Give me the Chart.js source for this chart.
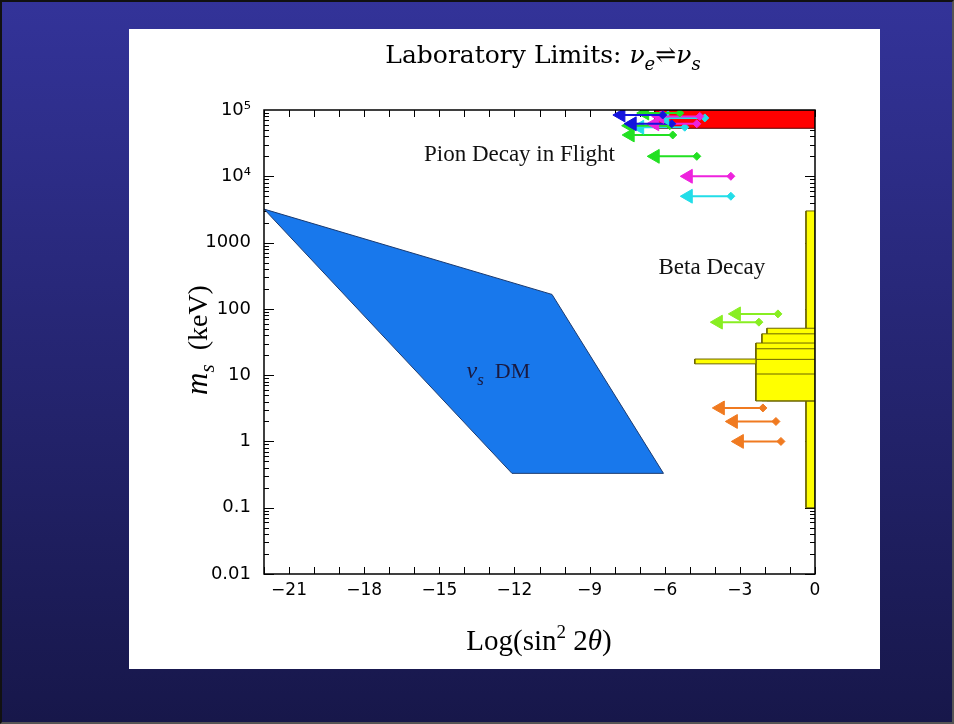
<!DOCTYPE html>
<html>
<head>
<meta charset="utf-8">
<script src="https://cdn.jsdelivr.net/npm/chart.js@4.4.1/dist/chart.umd.min.js"></script>
<style>
  html, body { margin: 0; padding: 0; }
  body { width: 954px; height: 724px; overflow: hidden; position: relative; }
  #bg { position: absolute; left: 0; top: 0; width: 950px; height: 720px;
        border: 2px solid #111; border-right-color: #555; border-bottom-color: #555;
        background: linear-gradient(#333399, #17174a); }
  #panel { position: absolute; left: 129px; top: 29px; width: 751px; height: 640px; background: #fff; }
</style>
</head>
<body>
<div id="bg"></div>
<div id="panel"><canvas id="chart" width="751" height="640"></canvas></div>
<script>
// axis ticks
var xTicks = [-21, -18, -15, -12, -9, -6, -3, 0];
var yTicks = [0.01, 0.1, 1, 10, 100, 1000, 1e4, 1e5];
var yTickLabels = ['0.01', '0.1', '1', '10', '100', '1000', '10\u2074', '10\u2075'];

// sterile neutrino dark matter region (closed polygon)
var dmX = [-22, -10.5, -6.05, -12.1, -22];
var dmY = [3200, 165, 0.33, 0.33, 3200];

// pion decay in flight excluded box
var pionX = [-6.4, 0, 0, -6.4, -6.4];
var pionY = [5.3e4, 5.3e4, 1e5, 1e5, 5.3e4];

// beta decay excluded boxes
var betaX0 = [-0.36, -1.92, -2.12, -2.36, -2.36, -2.36, -4.8];
var betaX1 = [0, 0, 0, 0, 0, 0, -2.36];
var betaY0 = [0.1, 4.1, 4.1, 4.1, 4.1, 10.4, 14.8];
var betaY1 = [3000, 51, 42, 30.5, 25, 17.3, 17.5];

// upper limits drawn as arrows (head on the left, diamond on the right)
var arrowColor = ['#1414dd', '#22e022', '#ee22dd', '#22dde8', '#1414dd', '#ee22dd', '#22e022', '#22dde8',
                  '#22e022', '#22e022', '#ee22dd', '#22dde8',
                  '#88ee22', '#88ee22', '#f07a20', '#f07a20', '#f07a20'];
var arrowHead = [-7.75, -6.8, -6.2, -6.0, -7.3, -6.4, -7.4, -7.0,
                 -7.38, -6.38, -5.06, -5.06,
                 -3.14, -3.86, -3.78, -3.26, -3.02];
var arrowEnd  = [-6.08, -5.4, -4.6, -4.4, -5.72, -4.72, -5.8, -5.2,
                 -5.68, -4.72, -3.36, -3.36,
                 -1.48, -2.24, -2.08, -1.56, -1.36];
var arrowY    = [8.4e4, 9.0e4, 8.0e4, 7.6e4, 6.2e4, 6.2e4, 5.8e4, 5.5e4,
                 4.2e4, 2.0e4, 1.0e4, 5.0e3,
                 84, 63, 3.2, 2.0, 1.0];

// text labels placed in data coordinates
var labelText = ['Pion Decay in Flight', 'Beta Decay'];
var labelX = [-11.8, -4.12];
var labelY = [2.1e4, 414];

function pts(xs, ys) {
    var out = [];
    for (var i = 0; i < xs.length; i++) out.push({ x: xs[i], y: ys[i] });
    return out;
}

function polygon(xs, ys, fillColor, edgeColor, order) {
    return {
        data: pts(xs, ys),
        showLine: true,
        fill: 'shape',
        backgroundColor: fillColor,
        borderColor: edgeColor,
        borderWidth: 1,
        pointRadius: 0,
        tension: 0,
        order: order
    };
}

var datasets = [];
for (var i = 0; i < arrowY.length; i++) {
    datasets.push({
        data: [{ x: arrowHead[i], y: arrowY[i] }, { x: arrowEnd[i], y: arrowY[i] }],
        showLine: true,
        fill: false,
        borderColor: arrowColor[i],
        borderWidth: 2,
        backgroundColor: arrowColor[i],
        pointBackgroundColor: arrowColor[i],
        pointBorderColor: arrowColor[i],
        pointBorderWidth: 1,
        pointStyle: ['triangle', 'rectRot'],
        pointRotation: [270, 0],
        pointRadius: [8, 4],
        order: 0
    });
}
datasets.push(polygon(pionX, pionY, '#ff0000', '#550000', 1));
for (var j = 0; j < betaX0.length; j++) {
    var bx = [betaX0[j], betaX1[j], betaX1[j], betaX0[j], betaX0[j]];
    var by = [betaY0[j], betaY0[j], betaY1[j], betaY1[j], betaY0[j]];
    datasets.push(polygon(bx, by, '#ffff00', '#6b6400', 2 + betaX0.length - j));
}
datasets.push(polygon(dmX, dmY, '#1878ec', '#1a3a70', 20));

// text pieces drawn one after another: [text, font, baseline shift]
function drawRich(ctx, parts, x, y, align) {
    var w = 0;
    parts.forEach(function (p) { ctx.font = p[1]; w += ctx.measureText(p[0]).width; });
    var cx = align === 'center' ? x - w / 2 : x;
    ctx.textAlign = 'left';
    ctx.textBaseline = 'alphabetic';
    parts.forEach(function (p) {
        ctx.font = p[1];
        ctx.fillText(p[0], cx, y + (p[2] || 0));
        cx += ctx.measureText(p[0]).width;
    });
}

var frameTicks = {
    id: 'frameTicks',
    beforeDatasetsDraw: function (chart) {
        var ctx = chart.ctx, a = chart.chartArea, x = chart.scales.x, y = chart.scales.y;
        ctx.save();
        ctx.strokeStyle = '#000';
        ctx.lineWidth = 1;
        ctx.beginPath();
        for (var v = Math.ceil(x.min); v <= x.max; v++) {
            var px = Math.round(x.getPixelForValue(v)) + 0.5;
            ctx.moveTo(px, a.bottom); ctx.lineTo(px, a.bottom - 7);
            ctx.moveTo(px, a.top); ctx.lineTo(px, a.top + 7);
        }
        for (var e = -2; e < 5; e++) {
            for (var m = 1; m < 10; m++) {
                var py = Math.round(y.getPixelForValue(m * Math.pow(10, e))) + 0.5;
                var len = m === 1 ? 10 : 5;
                ctx.moveTo(a.left, py); ctx.lineTo(a.left + len, py);
                ctx.moveTo(a.right, py); ctx.lineTo(a.right - len, py);
            }
        }
        ctx.stroke();
        ctx.restore();
    },
    afterDatasetsDraw: function (chart) {
        var ctx = chart.ctx, a = chart.chartArea, x = chart.scales.x, y = chart.scales.y;
        ctx.save();
        ctx.strokeStyle = '#000';
        ctx.lineWidth = 1.5;
        ctx.strokeRect(a.left, a.top, a.right - a.left, a.bottom - a.top);

        ctx.fillStyle = '#111';
        ctx.font = '23px "Liberation Serif"';
        ctx.textAlign = 'center';
        ctx.textBaseline = 'middle';
        for (var i = 0; i < labelText.length; i++) {
            ctx.fillText(labelText[i], x.getPixelForValue(labelX[i]), y.getPixelForValue(labelY[i]));
        }
        ctx.fillStyle = '#1a1a40';
        drawRich(ctx, [['\u03bd', 'italic 24px "Liberation Serif"'],
                       ['s', 'italic 17px "Liberation Serif"', 7],
                       ['  DM', '22px "Liberation Serif"']],
                 x.getPixelForValue(-12.64), y.getPixelForValue(12) + 8, 'center');

        // title
        ctx.fillStyle = '#000';
        drawRich(ctx, [['Laboratory Limits: ', '25px "DejaVu Serif"'],
                       ['\u03bd', 'italic 25px "DejaVu Serif"'],
                       ['e', 'italic 18px "DejaVu Serif"', 7],
                       ['\u21cc', '25px "DejaVu Serif"'],
                       ['\u03bd', 'italic 25px "DejaVu Serif"'],
                       ['s', 'italic 18px "DejaVu Serif"', 7]], 414, 34, 'center');

        // x axis title
        drawRich(ctx, [['Log(sin', '29px "Liberation Serif"'],
                       ['2', '19px "Liberation Serif"', -12],
                       [' 2', '29px "Liberation Serif"'],
                       ['\u03b8', 'italic 29px "Liberation Serif"'],
                       [')', '29px "Liberation Serif"']], 410, 621, 'center');

        // y axis title
        ctx.translate(78, 311);
        ctx.rotate(-Math.PI / 2);
        drawRich(ctx, [['m', 'italic 31px "Liberation Serif"'],
                       ['s', 'italic 21px "Liberation Serif"', 7],
                       ['  (keV)', '28px "Liberation Serif"']], 0, 0, 'center');
        ctx.restore();
    }
};

new Chart(document.getElementById('chart'), {
    type: 'scatter',
    data: { datasets: datasets },
    options: {
        responsive: false,
        animation: false,
        devicePixelRatio: 1,
        layout: { padding: { top: 81, right: 65, left: 0, bottom: 0 } },
        plugins: { legend: { display: false }, tooltip: { enabled: false } },
        scales: {
            x: {
                type: 'linear', min: -22, max: 0,
                grid: { display: false },
                border: { display: false },
                afterFit: function (s) { s.height = 95; },
                afterBuildTicks: function (s) { s.ticks = xTicks.map(function (v) { return { value: v }; }); },
                ticks: {
                    padding: -2, color: '#000', autoSkip: false, maxRotation: 0,
                    font: { family: '"DejaVu Sans"', size: 17 },
                    callback: function (v) { return v < 0 ? '\u2212' + Math.abs(v) : String(v); }
                }
            },
            y: {
                type: 'logarithmic', min: 0.01, max: 1e5,
                grid: { display: false },
                border: { display: false },
                afterFit: function (s) { s.width = 135; },
                afterBuildTicks: function (s) { s.ticks = yTicks.map(function (v) { return { value: v }; }); },
                ticks: {
                    padding: 5, color: '#000', autoSkip: false,
                    font: { family: '"DejaVu Sans"', size: 18 },
                    callback: function (v) { return yTickLabels[yTicks.indexOf(v)]; }
                }
            }
        }
    },
    plugins: [frameTicks]
});
</script>
</body>
</html>
